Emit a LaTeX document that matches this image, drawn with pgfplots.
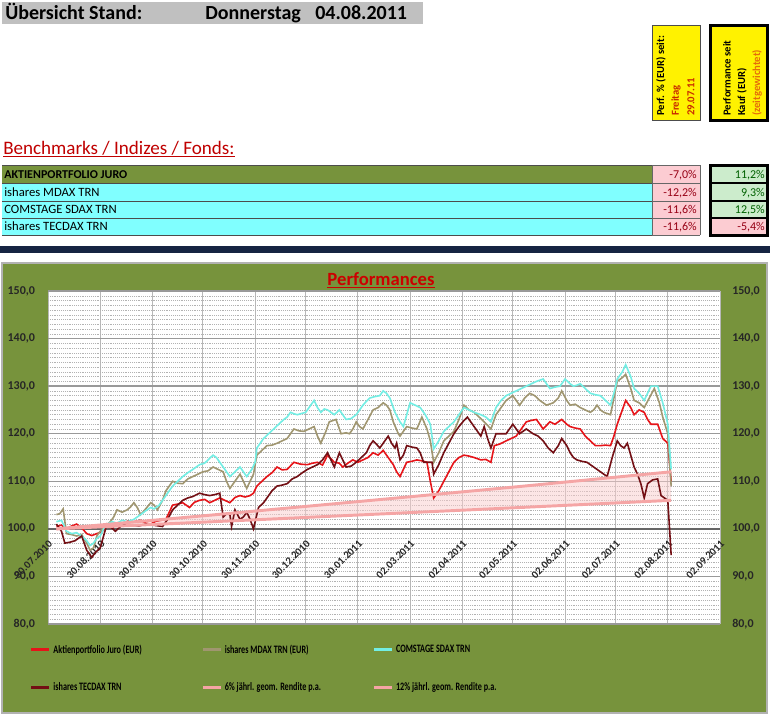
\documentclass[border=0pt]{standalone}
\usepackage{pgfplots}
\pgfplotsset{compat=1.18}
\usepackage{fontspec}
\setmainfont{Carlito}
\definecolor{frameolive}{RGB}{119,147,60}
\definecolor{hdrgray}{RGB}{192,192,192}
\definecolor{rowcyan}{RGB}{128,255,255}
\definecolor{cellpink}{RGB}{252,204,210}
\definecolor{cellgreen}{RGB}{204,236,204}
\definecolor{navybar}{RGB}{22,36,66}
\definecolor{benchred}{RGB}{192,0,0}
\definecolor{titlered}{RGB}{204,0,0}
\definecolor{darkred}{RGB}{150,0,20}
\definecolor{darkgreen}{RGB}{0,97,0}
\definecolor{freitag}{RGB}{200,40,0}
\definecolor{zeitorange}{RGB}{228,108,10}
\definecolor{cJuro}{RGB}{230,20,25}
\definecolor{cMDAX}{RGB}{160,150,112}
\definecolor{cSDAX}{RGB}{115,238,228}
\definecolor{cTEC}{RGB}{115,15,20}
\definecolor{cRend}{RGB}{245,165,165}
\definecolor{cFill}{RGB}{250,205,205}
\newcommand{\legtxt}[1]{\makebox[109pt][l]{\scalebox{0.72}[1]{#1}}}
\begin{document}
\begin{tikzpicture}
\useasboundingbox (0,0) rectangle (577.5pt,-536.25pt);
\begin{scope}[x=0.75pt,y=-0.75pt]
\fill[white] (0,0) rectangle (770,715);
% header
\fill[hdrgray] (2,2) rectangle (423,24);
\node[anchor=base west,inner sep=0pt,font=\bfseries\fontsize{15}{17}\selectfont] at (5,19) {Übersicht Stand:};
\node[anchor=base west,inner sep=0pt,font=\bfseries\fontsize{15}{17}\selectfont] at (205,19) {Donnerstag};
\node[anchor=base west,inner sep=0pt,font=\bfseries\fontsize{15}{17}\selectfont] at (315,19) {04.08.2011};
% yellow boxes
\filldraw[fill=yellow,draw=black!70,line width=0.6pt] (652,25) rectangle (700,120);
\node[rotate=90,anchor=west,inner sep=0pt,font=\bfseries\fontsize{8}{9}\selectfont] at (661,116) {Perf. \% (EUR) seit:};
\node[rotate=90,anchor=west,inner sep=0pt,font=\bfseries\fontsize{8}{9}\selectfont,text=freitag] at (676,116) {Freitag};
\node[rotate=90,anchor=west,inner sep=0pt,font=\bfseries\fontsize{8}{9}\selectfont,text=freitag] at (691,116) {29.07.11};
\filldraw[fill=yellow,draw=black,line width=2.25pt] (710,25) rectangle (767,120);
\node[rotate=90,anchor=west,inner sep=0pt,font=\bfseries\fontsize{8}{9}\selectfont] at (727,116) {Performance seit};
\node[rotate=90,anchor=west,inner sep=0pt,font=\bfseries\fontsize{8}{9}\selectfont] at (742,116) {Kauf (EUR)};
\node[rotate=90,anchor=west,inner sep=0pt,font=\bfseries\fontsize{8}{9}\selectfont,text=zeitorange] at (757,116) {(zeitgewichtet)};
% benchmarks title
\node[anchor=base west,inner sep=0pt,font=\fontsize{14.3}{16}\selectfont,text=benchred] at (3,154) {\underline{Benchmarks / Indizes / Fonds:}};
% table
\fill[frameolive] (2,165) rectangle (652,183);
\fill[rowcyan] (2,183) rectangle (652,235);
\foreach \yy in {165,183,201,218,235} \draw[black!70,line width=0.7pt] (2,\yy) -- (652,\yy);
\node[anchor=base west,inner sep=0pt,font=\bfseries\fontsize{9}{10}\selectfont] at (4,178) {AKTIENPORTFOLIO JURO};
\node[anchor=base west,inner sep=0pt,font=\fontsize{9.5}{11}\selectfont] at (4,196) {ishares MDAX TRN};
\node[anchor=base west,inner sep=0pt,font=\fontsize{9.5}{11}\selectfont] at (4,213.5) {COMSTAGE SDAX TRN};
\node[anchor=base west,inner sep=0pt,font=\fontsize{9.5}{11}\selectfont] at (4,230.5) {ishares TECDAX TRN};
\fill[cellpink] (652,165) rectangle (700,235);
\foreach \yy in {165,183,201,218,235} \draw[black!60,line width=0.6pt] (652,\yy) -- (700,\yy);
\draw[black!60,line width=0.6pt] (652,165) -- (652,235) (700,165) -- (700,235);
\node[anchor=base east,inner sep=0pt,font=\fontsize{9}{10}\selectfont,text=darkred] at (697,178) {-7,0\%};
\node[anchor=base east,inner sep=0pt,font=\fontsize{9}{10}\selectfont,text=darkred] at (697,196) {-12,2\%};
\node[anchor=base east,inner sep=0pt,font=\fontsize{9}{10}\selectfont,text=darkred] at (697,213.5) {-11,6\%};
\node[anchor=base east,inner sep=0pt,font=\fontsize{9}{10}\selectfont,text=darkred] at (697,230.5) {-11,6\%};
\fill[cellgreen] (710,165) rectangle (767,218);
\fill[cellpink] (710,218) rectangle (767,235);
\foreach \yy in {183,201,218} \draw[black,line width=1.2pt] (710,\yy) -- (767,\yy);
\draw[black,line width=2.25pt] (710,165) rectangle (767,235);
\node[anchor=base east,inner sep=0pt,font=\fontsize{9}{10}\selectfont,text=darkgreen] at (765,178) {11,2\%};
\node[anchor=base east,inner sep=0pt,font=\fontsize{9}{10}\selectfont,text=darkgreen] at (765,196) {9,3\%};
\node[anchor=base east,inner sep=0pt,font=\fontsize{9}{10}\selectfont,text=darkgreen] at (765,213.5) {12,5\%};
\node[anchor=base east,inner sep=0pt,font=\fontsize{9}{10}\selectfont,text=darkred] at (765,230.5) {-5,4\%};
% navy bar
\fill[navybar] (0,246) rectangle (770,253);
% chart frame
\filldraw[fill=frameolive,draw=gray!60,line width=0.8pt] (2,263) rectangle (767,713);
\node[anchor=base,inner sep=0pt,font=\bfseries\fontsize{14}{16}\selectfont,text=titlered] at (381,285) {\underline{Performances}};
\end{scope}

\begin{axis}[
  at={(36pt,-468pt)}, anchor=south west,
  width=504pt, height=249.75pt, scale only axis,
  xmin=0, xmax=399, ymin=80, ymax=150,
  axis background/.style={fill=white},
  axis line style={draw=none},
  major tick length=0pt, minor tick length=0pt,
  xtick={0,31,62,92,123,153,184,215,246,276,307,337,368,399},
  xticklabels={30.07.2010,30.08.2010,30.09.2010,30.10.2010,30.11.2010,30.12.2010,30.01.2011,02.03.2011,02.04.2011,02.05.2011,02.06.2011,02.07.2011,02.08.2011,02.09.2011},
  xticklabel style={yshift=65pt, rotate=45, anchor=north east, inner sep=1pt, font=\bfseries\fontsize{8}{9}\selectfont, text=black!85},
  ytick={80,90,100,110,120,130,140,150},
  yticklabels={{80,0},{90,0},{100,0},{110,0},{120,0},{130,0},{140,0},{150,0}},
  yticklabel style={anchor=east, inner sep=0pt, xshift=-9.5pt, font=\bfseries\fontsize{9}{10}\selectfont, text=black!85},
  minor y tick num=9,
  grid=both,
  major grid style={draw=black!40, line width=1pt},
  major x grid style={draw=black!28, line width=0.7pt},
  minor grid style={draw=black!30, densely dotted, line width=0.4pt},
  extra y ticks={100}, extra y tick labels={},
  extra y tick style={major grid style={draw=black!60, line width=1.3pt}},
  legend columns=3,
  legend cell align=left,
  legend image code/.code={\draw[#1, line width=2pt] (0pt,0pt) -- (13.5pt,0pt);},
  legend style={at={(-0.033,-0.045)}, anchor=north west, draw=none, fill=none,
    font=\bfseries\fontsize{8.5}{10}\selectfont, row sep=16.5pt},
]
% band between 6% and 12% curves
\addplot[fill=cFill, draw=none, fill opacity=0.5, forget plot] coordinates {
(5,100) (96,101.47) (187,102.96) (279,104.47) (370,106.0)
(370,112.0) (279,108.87) (187,105.83) (96,102.87) (5,100)} -- cycle;

\addplot[cJuro, line width=1.2pt] coordinates {
(5,100.5) (8,100.8) (11,100.0) (14,100.6) (17,101.0) (20,100.2) (23,99.0) (26,98.6) (29,99.0) (32,99.4)
(35,100.5) (38,100.2) (41,101.0) (45,101.3) (48,101.7) (51,101.5) (55,101.8) (58,101.2) (61,101.0) (64,101.6)
(67,101.8) (70,102.0) (72,103.5) (74,105.0) (77,105.2) (80,105.5) (84,104.5) (87,105.6) (90,106.0) (93,106.2)
(96,105.5) (99,106.0) (102,106.5) (105,106.0) (108,105.5) (111,106.6) (114,107.0) (117,106.7) (120,107.0) (122,107.5)
(124,109.0) (127,110.0) (130,111.0) (133,111.8) (136,113.0) (139,112.4) (142,112.5) (146,114.0) (150,113.6) (154,113.5)
(157,113.8) (160,114.0) (163,113.4) (166,115.5) (170,114.0) (173,113.8) (175,113.0) (178,113.8) (181,114.5) (184,114.0)
(187,114.5) (190,115.0) (193,116.0) (196,115.5) (199,116.5) (202,115.0) (205,113.5) (207,112.0) (209,111.0) (211,112.5)
(213,114.0) (216,114.2) (219,114.5) (222,114.3) (225,114.0) (227,110.0) (229,106.5) (232,108.0) (235,110.0) (238,112.0)
(241,114.0) (244,115.0) (247,115.5) (250,115.3) (253,115.0) (257,114.5) (260,114.6) (263,114.0) (265,117.5) (268,117.8)
(272,118.5) (275,119.0) (278,119.5) (281,121.0) (284,122.5) (287,122.8) (290,123.0) (294,121.0) (298,122.5) (301,122.0)
(305,123.0) (308,122.0) (310,121.5) (313,121.2) (316,121.0) (319,119.5) (322,118.5) (325,117.5) (328,117.5) (331,117.6)
(334,117.5) (336,119.5) (338,122.0) (341,125.0) (343,127.0) (346,125.5) (348,124.0) (351,125.0) (354,124.5) (356,123.0)
(358,122.0) (362,122.0) (365,119.0) (368,118.0) (370,110.0)};
\addlegendentry{\legtxt{Aktienportfolio Juro (EUR)}}

\addplot[cMDAX, line width=1.2pt] coordinates {
(5,103.0) (7,103.2) (9,104.2) (11,99.0) (14,98.8) (17,98.5) (20,98.8) (23,97.0) (25,95.5) (27,96.0)
(29,98.5) (31,99.5) (34,100.5) (37,101.5) (39,102.5) (41,104.0) (44,103.5) (47,104.0) (49,104.6) (51,105.5)
(53,104.5) (55,103.0) (58,104.2) (61,105.5) (63,105.0) (65,104.0) (68,106.0) (70,108.0) (74,110.0) (77,109.6)
(80,109.5) (83,110.5) (86,111.0) (89,111.5) (92,112.0) (95,112.2) (98,113.0) (101,112.5) (104,112.0) (106,110.0)
(108,108.5) (111,110.0) (114,111.5) (116,110.0) (118,108.5) (120,110.0) (122,111.5) (124,115.5) (127,116.5) (130,117.5)
(133,117.6) (136,118.0) (139,118.5) (142,119.0) (144,120.0) (146,121.0) (149,120.6) (152,120.5) (155,121.0) (158,121.5)
(160,119.5) (162,118.0) (165,120.5) (167,122.5) (171,123.0) (174,120.0) (177,120.2) (179,120.0) (181,121.0) (183,122.5)
(185,121.5) (187,121.0) (190,123.0) (193,125.0) (196,125.5) (199,126.5) (201,126.0) (203,125.0) (205,122.5) (208,120.0)
(209,119.5) (213,121.5) (216,121.2) (219,121.0) (222,123.5) (225,121.0) (227,118.5) (229,114.0) (232,116.0) (235,118.5)
(238,119.5) (241,120.5) (244,123.0) (247,126.0) (250,125.0) (253,124.5) (256,123.5) (259,122.5) (263,121.0) (266,124.0)
(269,125.5) (272,127.0) (276,128.0) (278,127.0) (280,126.0) (283,127.5) (286,128.5) (289,128.0) (292,127.0) (296,126.0)
(300,126.5) (303,127.5) (305,129.0) (308,127.0) (310,126.0) (313,126.2) (316,125.5) (319,125.0) (322,124.5) (324,125.0)
(326,126.0) (328,125.0) (330,124.5) (334,124.0) (336,127.5) (338,131.0) (341,131.8) (343,132.5) (346,129.5) (348,127.0)
(351,126.5) (354,125.5) (357,127.5) (360,129.5) (363,126.5) (365,123.5) (368,120.0) (370,109.0)};
\addlegendentry{\legtxt{ishares MDAX TRN (EUR)}}

\addplot[cSDAX, line width=1.2pt] coordinates {
(5,101.5) (8,101.8) (11,99.5) (14,99.0) (17,99.2) (20,98.5) (23,97.5) (25,96.5) (27,97.0) (29,98.0)
(31,98.5) (33,100.0) (35,101.0) (38,101.5) (41,101.2) (44,101.8) (47,101.5) (51,102.0) (55,103.0) (58,103.8)
(61,104.5) (63,104.2) (66,105.0) (69,106.5) (72,108.0) (74,109.0) (77,110.0) (80,111.0) (83,111.8) (86,112.5)
(90,113.5) (93,113.8) (95,114.5) (98,115.5) (100,115.0) (102,114.0) (105,112.5) (108,111.0) (111,112.0) (114,113.0)
(116,112.0) (118,111.0) (121,112.5) (123,114.0) (124,117.0) (126,118.0) (128,119.0) (131,120.0) (134,121.0) (137,122.0)
(140,123.0) (142,123.5) (144,124.5) (146,124.2) (148,124.0) (151,124.3) (153,124.5) (156,126.0) (158,127.0) (160,125.5)
(162,124.5) (164,125.2) (166,125.0) (168,124.5) (170,124.0) (173,125.0) (175,124.0) (177,123.0) (180,123.2) (183,124.0)
(185,125.0) (187,126.0) (189,126.8) (191,127.5) (194,127.8) (197,128.0) (199,129.0) (201,128.5) (203,127.5) (206,124.5)
(209,122.5) (211,121.5) (213,124.0) (215,126.5) (218,126.0) (221,125.5) (224,124.0) (227,122.0) (229,116.8) (232,118.5)
(235,120.5) (238,121.5) (241,122.5) (244,124.0) (247,125.5) (250,125.0) (253,124.5) (257,124.0) (260,123.5) (263,122.5)
(266,125.5) (269,127.0) (272,128.0) (275,128.5) (278,129.0) (281,129.5) (284,130.0) (287,130.5) (290,131.0) (294,131.5)
(296,130.5) (298,129.5) (301,129.8) (304,130.0) (307,131.5) (310,130.5) (312,130.0) (314,130.2) (316,130.5) (319,129.5)
(322,128.5) (325,128.2) (328,128.0) (331,127.0) (334,126.0) (336,128.5) (338,131.5) (341,133.0) (343,134.5) (346,132.0)
(348,129.5) (351,128.5) (354,127.0) (356,128.5) (358,130.0) (362,130.0) (365,126.5) (368,122.0) (370,112.5)};
\addlegendentry{\legtxt{COMSTAGE SDAX TRN}}

\addplot[cTEC, line width=1.2pt] coordinates {
(5,101.0) (8,99.5) (10,97.0) (13,97.2) (16,97.5) (18,98.0) (20,98.5) (23,95.5) (26,94.0) (28,95.0)
(31,96.0) (33,98.5) (35,101.0) (38,100.2) (40,99.5) (43,100.5) (46,101.0) (50,100.8) (54,100.6) (58,101.0)
(62,100.8) (66,100.6) (68,100.5) (71,102.0) (74,104.0) (77,105.0) (80,106.0) (83,106.5) (86,106.8) (90,107.5)
(93,107.2) (96,107.0) (99,107.2) (102,107.5) (104,102.5) (106,103.2) (108,103.0) (109,100.5) (111,104.0) (114,102.0)
(116,102.5) (118,103.5) (120,102.0) (122,100.0) (125,104.5) (128,105.5) (130,106.5) (133,108.0) (136,109.0) (139,109.2)
(142,109.5) (145,110.5) (148,111.0) (151,111.8) (154,112.5) (157,113.0) (160,113.5) (163,114.5) (166,116.0) (168,114.5)
(170,113.0) (173,116.0) (175,114.5) (177,113.0) (180,113.2) (183,114.0) (186,115.0) (189,116.0) (191,117.5) (193,118.5)
(195,117.8) (197,117.0) (200,118.5) (202,119.5) (204,118.0) (206,117.0) (207,118.0) (209,114.5) (211,115.5) (213,117.5)
(216,117.2) (219,117.0) (221,116.0) (223,114.0) (226,114.0) (228,114.0) (229,111.5) (232,113.5) (235,116.0) (238,118.0)
(241,120.0) (244,121.5) (247,122.8) (249,123.5) (251,122.5) (253,121.5) (255,120.5) (257,119.5) (259,121.5) (261,119.0)
(263,117.0) (266,120.0) (269,120.0) (272,120.0) (274,121.0) (276,122.0) (278,121.0) (280,120.0) (282,120.5) (284,121.0)
(286,120.5) (288,120.0) (291,119.5) (294,118.5) (297,117.0) (300,116.0) (303,117.5) (305,119.0) (308,117.5) (310,116.0)
(312,115.0) (314,114.5) (317,114.2) (320,114.0) (322,113.5) (324,113.0) (326,112.5) (328,112.0) (330,111.5) (332,111.0)
(335,115.0) (338,118.5) (340,117.5) (342,117.0) (344,118.0) (346,115.5) (348,113.0) (350,111.5) (352,109.5) (354,106.5)
(356,109.5) (359,110.3) (362,110.5) (364,107.0) (366,106.5) (368,106.0) (370,94.5)};
\addlegendentry{\legtxt{ishares TECDAX TRN}}

\addplot[cRend, line width=2.2pt] coordinates {(5,100) (96,101.47) (187,102.96) (279,104.47) (370,106.0)};
\addlegendentry{\legtxt{6\% jährl. geom. Rendite p.a.}}
\addplot[cRend, line width=2.2pt] coordinates {(5,100) (96,102.87) (187,105.83) (279,108.87) (370,112.0)};
\addlegendentry{\legtxt{12\% jährl. geom. Rendite p.a.}}
\end{axis}

\begin{axis}[
  at={(36pt,-468pt)}, anchor=south west,
  width=504pt, height=249.75pt, scale only axis,
  xmin=0, xmax=399, ymin=80, ymax=150,
  hide x axis,
  axis line style={draw=none},
  major tick length=0pt, minor tick length=0pt,
  ytick={80,90,100,110,120,130,140,150},
  yticklabels={{80,0},{90,0},{100,0},{110,0},{120,0},{130,0},{140,0},{150,0}},
  yticklabel pos=right,
  yticklabel style={anchor=west, inner sep=0pt, xshift=9pt, font=\bfseries\fontsize{9}{10}\selectfont, text=black!85},
]
\addplot[draw=none, forget plot] coordinates {(0,80) (399,150)};
\end{axis}
\end{tikzpicture}
\end{document}
